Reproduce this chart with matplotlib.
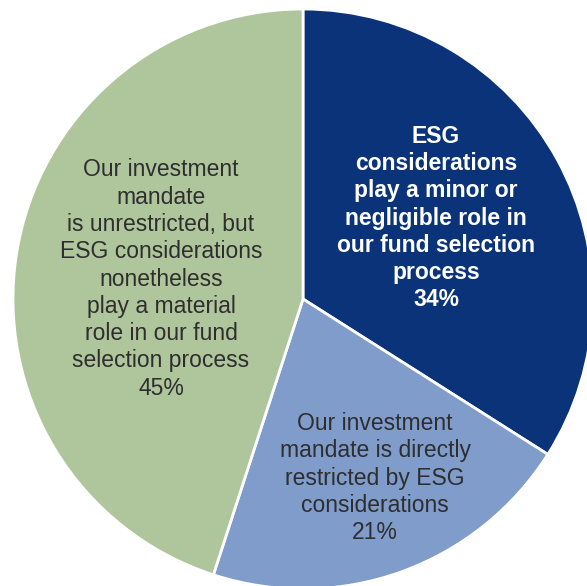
import matplotlib
matplotlib.use('Agg')
import matplotlib.pyplot as plt

# share of respondents, clockwise from 12 o'clock
labels = ["ESG\nconsiderations\nplay a minor or\nnegligible role in\nour fund selection\nprocess\n34%",
          "Our investment\nmandate is directly\nrestricted by ESG\nconsiderations\n21%",
          "Our investment\nmandate\nis unrestricted, but\nESG considerations\nnonetheless\nplay a material\nrole in our fund\nselection process\n45%"]
values = [34, 21, 45]
colors = ['#0a337a', '#7f9ccb', '#afc69c']
text_colors = ['white', '#2e2e2e', '#2e2e2e']
weights = ['bold', 'normal', 'normal']
# label centres in pixel space of the reference image
label_px = [(436, 218), (375, 478), (161, 279)]

W, H = 587, 586
cx, cy, R = 303, 299, 290

fig = plt.figure(figsize=(W / 100, H / 100), dpi=100)
ax = fig.add_axes([0, 0, 1, 1])
ax.pie(values, colors=colors, startangle=90, counterclock=False, radius=1,
       wedgeprops=dict(edgecolor='white', linewidth=2))
ax.set_xlim(-cx / R, (W - cx) / R)
ax.set_ylim(-(H - cy) / R, cy / R)
ax.set_aspect('auto')
ax.axis('off')

for lab, (px, py), tc, fw in zip(labels, label_px, text_colors, weights):
    ax.text((px - cx) / R, (cy - py) / R, lab, ha='center', va='center',
            color=tc, fontweight=fw, fontsize=16.5, linespacing=1.24,
            family='Liberation Sans')

plt.savefig('out.png', dpi=100)
